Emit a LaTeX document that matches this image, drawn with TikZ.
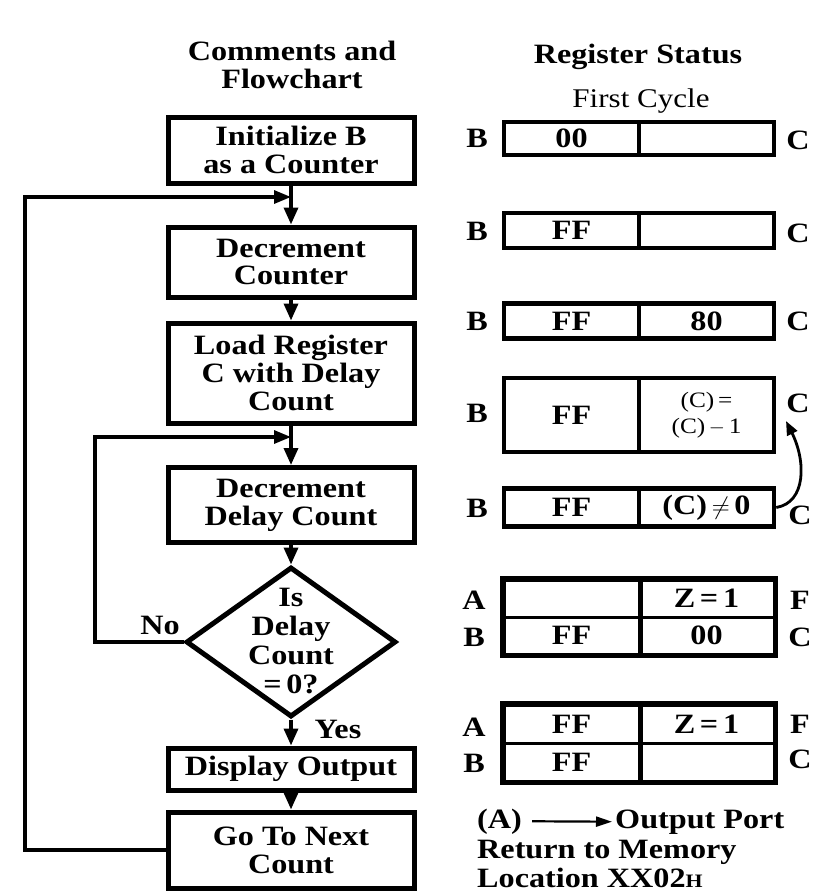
\documentclass[tikz,border=0pt]{standalone}
\usepackage{fontspec}
\setmainfont{Liberation Serif}[FakeStretch=1.15]
\usetikzlibrary{shapes.geometric,arrows.meta}
\tikzset{
  fbox/.style={draw, line width=5pt, minimum width=246pt, inner sep=0pt, align=center,
    font=\bfseries\fontsize{28}{28}\selectfont},
  flow/.style={line width=3.5pt, -{Triangle[length=17pt,width=14pt]}},
  loopline/.style={line width=3.2pt, -{Triangle[length=17pt,width=13pt]}},
  cell/.style={draw, line width=4.5pt, minimum width=135pt, inner sep=0pt,
    font=\bfseries\fontsize{28}{28}\selectfont},
  thincell/.style={draw, line width=3pt, minimum width=135pt, inner sep=0pt,
    font=\bfseries\fontsize{28}{28}\selectfont},
  frame/.style={line width=4.5pt},
  lbl/.style={font=\bfseries\fontsize{28}{28}\selectfont, inner sep=0pt},
}
\begin{document}
\begin{tikzpicture}[x=1pt,y=-1pt]
\useasboundingbox (0,0) rectangle (817,894);

% headers
\node[lbl, align=center] (h1) at (292,65) {Comments and\\Flowchart};
\node[lbl] (h2) at (638,57) {Register Status};
\node[inner sep=0pt, font=\fontsize{27}{28}\selectfont] (h3) at (641,101) {First Cycle};

% flowchart
\node[fbox, minimum height=66pt] (b1) at (291,150) {Initialize B\\as a Counter};
\node[fbox, minimum height=70pt] (b2) at (291,262) {Decrement\\Counter};
\node[fbox, minimum height=100pt] (b3) at (291,373) {Load Register\\C with Delay\\Count};
\node[fbox, minimum height=75pt] (b4) at (291,505) {Decrement\\Delay Count};
\node[draw, diamond, line width=5pt, minimum width=210pt, minimum height=150pt, inner sep=0pt] (d) at (291,642) {};
\node[lbl, align=center, font=\bfseries\fontsize{28}{29}\selectfont] (dt) at (291,641) {Is\\Delay\\Count\\=\,0?};
\node[fbox, minimum height=42pt] (b5) at (291,769) {Display Output};
\node[fbox, minimum height=76pt] (b6) at (291,850) {Go To Next\\Count};

\coordinate (j1) at (291,197);
\coordinate (j2) at (291,437);
\coordinate (ol) at (25,197);
\coordinate (il) at (95,437);

\draw[flow] (b1.south) -- (b2.north);
\draw[flow] (b2.south) -- (b3.north);
\draw[flow] (b3.south) -- (b4.north);
\draw[flow] (b4.south) -- (d.north);
\draw[flow] (d.south) -- (b5.north);
\draw[flow] (b5.south) -- (b6.north);
\draw[loopline] (b6.west) -| (ol) -- (j1);
\draw[loopline] (d.west) -| (il) -- (j2);

\node[lbl] (no) at (160,625) {No};
\node[lbl] (yes) at (338,729) {Yes};

% register rows
\node[cell, minimum height=33pt] (r1l) at (571.5,138.5) {00};
\node[cell, minimum height=33pt] (r1r) at (706.5,138.5) {};
\node[lbl] (b1lab) at (477,138.5) {B};
\node[lbl] (c1lab) at (798,140) {C};

\node[cell, minimum height=35pt] (r2l) at (571.5,230.5) {FF};
\node[cell, minimum height=35pt] (r2r) at (706.5,230.5) {};
\node[lbl] (b2lab) at (477,231) {B};
\node[lbl] (c2lab) at (798,233) {C};

\node[cell, minimum height=35pt] (r3l) at (571.5,321) {FF};
\node[cell, minimum height=35pt] (r3r) at (706.5,321) {80};
\node[lbl] (b3lab) at (477,321) {B};
\node[lbl] (c3lab) at (798,321) {C};

\node[cell, minimum height=74pt] (r4l) at (571.5,415) {FF};
\node[cell, minimum height=74pt, align=center, font=\fontsize{22}{26}\selectfont] (r4r) at (706.5,415) {(C)\,=\\(C)\,$-$\,1};
\node[lbl] (b4lab) at (477,413) {B};
\node[lbl] (c4lab) at (798,403) {C};

\node[cell, minimum height=38pt] (r5l) at (571.5,507.5) {FF};
\node[cell, minimum height=38pt] (r5r) at (706.5,507.5) {(C)\,$\neq$\,0};
\node[lbl] (b5lab) at (477,508) {B};
\node[lbl] (c5lab) at (800,515) {C};

\coordinate (tip) at (786,421);
\draw[line width=2.8pt, -{Triangle[length=14pt,width=11pt]}] (r5r.east) .. controls +(30,-5) and +(20,40) .. (tip);

\node[thincell, minimum height=37pt] (r6a) at (571.5,598.5) {};
\node[thincell, minimum height=37pt] (r6b) at (706.5,598.5) {Z\,=\,1};
\node[thincell, minimum height=37pt] (r6c) at (571.5,635.5) {FF};
\node[thincell, minimum height=37pt] (r6d) at (706.5,635.5) {00};
\draw[frame] (r6a.north west) rectangle (r6d.south east);
\draw[frame] (r6a.north east) -- (r6c.south east);
\node[lbl] (a6lab) at (474,600) {A};
\node[lbl] (b6lab) at (474,637) {B};
\node[lbl] (f6lab) at (800,600) {F};
\node[lbl] (c6lab) at (800,637) {C};

\node[thincell, minimum height=38pt] (r7a) at (571.5,724) {FF};
\node[thincell, minimum height=38pt] (r7b) at (706.5,724) {Z\,=\,1};
\node[thincell, minimum height=38pt] (r7c) at (571.5,762) {FF};
\node[thincell, minimum height=38pt] (r7d) at (706.5,762) {};
\draw[frame] (r7a.north west) rectangle (r7d.south east);
\draw[frame] (r7a.north east) -- (r7c.south east);
\node[lbl] (a7lab) at (474,727) {A};
\node[lbl] (b7lab) at (474,763) {B};
\node[lbl] (f7lab) at (800,724) {F};
\node[lbl] (c7lab) at (800,759) {C};

% bottom notes
\node[lbl, anchor=base west] (tA) at (477,828) {(A)};
\node[lbl, anchor=base west] (tO) at (615,828) {Output Port};
\draw[line width=2.2pt, -{Triangle[length=16pt,width=10pt]}] ([xshift=10pt]tA.east) -- ([xshift=-3pt]tO.west);
\node[lbl, anchor=base west] (tR) at (477,858) {Return to Memory};
\node[lbl, anchor=base west] (tL) at (477,887) {Location XX02{\fontsize{19}{20}\selectfont H}};
\end{tikzpicture}
\end{document}
